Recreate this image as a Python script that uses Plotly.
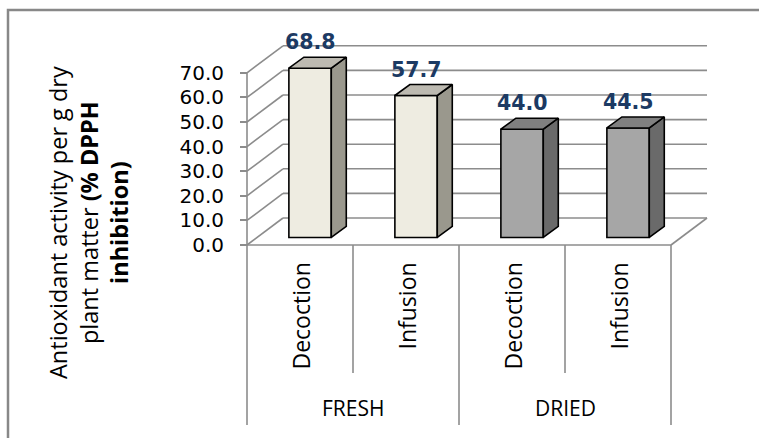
import plotly.graph_objects as go

# ---------------- data ----------------
categories = ["Decoction", "Infusion", "Decoction", "Infusion"]
groups = ["FRESH", "DRIED"]
group_of_bar = [0, 0, 1, 1]
values = [68.8, 57.7, 44.0, 44.5]
value_labels = ["68.8", "57.7", "44.0", "44.5"]
ytick_vals = [0, 10, 20, 30, 40, 50, 60, 70]
ytick_text = ["0.0", "10.0", "20.0", "30.0", "40.0", "50.0", "60.0", "70.0"]

# ---------------- styling / geometry ----------------
W, H = 759, 438
X0_PX, Y0_PX = 247, 245          # pixel of category-axis left edge / value 0
PX_X, PX_Y = 106.0, 2.46         # pixels per category unit / per value unit
FLOOR_DX, FLOOR_DY = 36 / PX_X, 27 / PX_Y     # 3-D depth of the floor/walls
BAR_DX, BAR_DY = 15 / PX_X, 11 / PX_Y         # 3-D depth of each bar
BAR_W = 0.40
F = 0.28                                       # bar front position in depth
GRID = "#8c8c8c"
front_cols = ["#EEECE1", "#A6A6A6"]
top_cols = ["#BDBAB1", "#808080"]
side_cols = ["#9A988D", "#6A6A6A"]
LABEL_COL = "#1C3A63"

xr = [-0.5 - X0_PX / PX_X, -0.5 + (W - X0_PX) / PX_X]
yr = [-(H - Y0_PX) / PX_Y, Y0_PX / PX_Y]
y_of_px = lambda p: (Y0_PX - p) / PX_Y

n = len(values)
fig = go.Figure()

shapes = []
line_style = dict(color=GRID, width=1.6)
# back wall gridlines and left wall diagonals
for v in ytick_vals:
    shapes.append(dict(type="line", xref="x", yref="y", layer="below",
                       x0=-0.5 + FLOOR_DX, y0=v + FLOOR_DY,
                       x1=n - 0.5 + FLOOR_DX, y1=v + FLOOR_DY, line=line_style))
    shapes.append(dict(type="line", xref="x", yref="y", layer="below",
                       x0=-0.5, y0=v, x1=-0.5 + FLOOR_DX, y1=v + FLOOR_DY,
                       line=line_style))
# floor: front edge and right diagonal
shapes.append(dict(type="line", xref="x", yref="y", layer="below",
                   x0=-0.5, y0=0, x1=n - 0.5, y1=0, line=line_style))
shapes.append(dict(type="line", xref="x", yref="y", layer="below",
                   x0=n - 0.5, y0=0, x1=n - 0.5 + FLOOR_DX, y1=FLOOR_DY,
                   line=line_style))
# value axis line (front) + category separators
bottom_group = y_of_px(425)
bottom_inner = y_of_px(373)
shapes.append(dict(type="line", xref="x", yref="y", layer="below",
                   x0=-0.5, y0=max(ytick_vals), x1=-0.5, y1=bottom_group,
                   line=line_style))
for i in range(1, n + 1):
    is_group_edge = (i == n) or (group_of_bar[i] != group_of_bar[i - 1])
    shapes.append(dict(type="line", xref="x", yref="y", layer="below",
                       x0=i - 0.5, y0=0, x1=i - 0.5,
                       y1=bottom_group if is_group_edge else bottom_inner,
                       line=line_style))
# outer chart frame
shapes.append(dict(type="rect", xref="paper", yref="paper",
                   x0=8 / W, y0=-0.02, x1=1.02, y1=1 - 10 / H,
                   line=dict(color="#888888", width=2.5)))

# ---------------- bars ----------------
bar_x = [i + F * FLOOR_DX for i in range(n)]
base = F * FLOOR_DY
fig.add_trace(go.Bar(
    x=bar_x, y=values, base=[base] * n, width=BAR_W,
    marker=dict(color=[front_cols[g] for g in group_of_bar],
                line=dict(color="#000000", width=1.6)),
    hoverinfo="skip", showlegend=False))

for i, v in enumerate(values):
    g = group_of_bar[i]
    xl, xrr = bar_x[i] - BAR_W / 2, bar_x[i] + BAR_W / 2
    yb, yt = base, base + v
    # side face
    fig.add_trace(go.Scatter(
        x=[xrr, xrr + BAR_DX, xrr + BAR_DX, xrr, xrr],
        y=[yb, yb + BAR_DY, yt + BAR_DY, yt, yb],
        fill="toself", fillcolor=side_cols[g], mode="lines",
        line=dict(color="#000000", width=1.6), hoverinfo="skip",
        showlegend=False))
    # top face
    fig.add_trace(go.Scatter(
        x=[xl, xl + BAR_DX, xrr + BAR_DX, xrr, xl],
        y=[yt, yt + BAR_DY, yt + BAR_DY, yt, yt],
        fill="toself", fillcolor=top_cols[g], mode="lines",
        line=dict(color="#000000", width=1.6), hoverinfo="skip",
        showlegend=False))

annotations = []
# data labels
for i, v in enumerate(values):
    annotations.append(dict(
        x=bar_x[i], y=base + v + BAR_DY, xref="x", yref="y",
        text=value_labels[i], showarrow=False, yanchor="middle", yshift=15,
        font=dict(family="DejaVu Sans", size=20.5, color=LABEL_COL, weight="bold")))
# category labels (rotated)
for i, c in enumerate(categories):
    annotations.append(dict(
        x=i, y=y_of_px(261), xref="x", yref="y", text=c, showarrow=False,
        textangle=-90, xanchor="center", yanchor="top",
        font=dict(family="Open Sans", size=23, color="#000000")))
# group labels
for gi, gname in enumerate(groups):
    idx = [i for i in range(n) if group_of_bar[i] == gi]
    annotations.append(dict(
        x=sum(idx) / len(idx), y=y_of_px(408), xref="x", yref="y", text=gname,
        showarrow=False, xanchor="center", yanchor="middle",
        font=dict(family="Open Sans", size=21, color="#000000")))
# y axis title
annotations.append(dict(
    x=88 / W, y=1 - 223 / H, xref="paper", yref="paper",
    text="Antioxidant activity per g dry<br>plant matter <b>(% DPPH</b><br><b>inhibition)</b>",
    showarrow=False, textangle=-90, xanchor="center", yanchor="middle",
    font=dict(family="Open Sans", size=23.5, color="#000000")))

fig.update_layout(
    width=W, height=H, margin=dict(l=0, r=0, t=0, b=0),
    paper_bgcolor="white", plot_bgcolor="white",
    shapes=shapes, annotations=annotations, showlegend=False,
    xaxis=dict(range=xr, visible=False, fixedrange=True, domain=[0, 1]),
    yaxis=dict(range=yr, anchor="free", position=X0_PX / W, side="left",
               showgrid=False, zeroline=False, showline=False,
               tickmode="array", tickvals=ytick_vals, ticktext=ytick_text,
               ticks="outside", ticklen=7, tickwidth=1.6, tickcolor=GRID,
               ticklabelstandoff=12,
               tickfont=dict(family="DejaVu Sans", size=20, color="#000000"),
               fixedrange=True, domain=[0, 1]),
)

fig.write_html("out.html")
